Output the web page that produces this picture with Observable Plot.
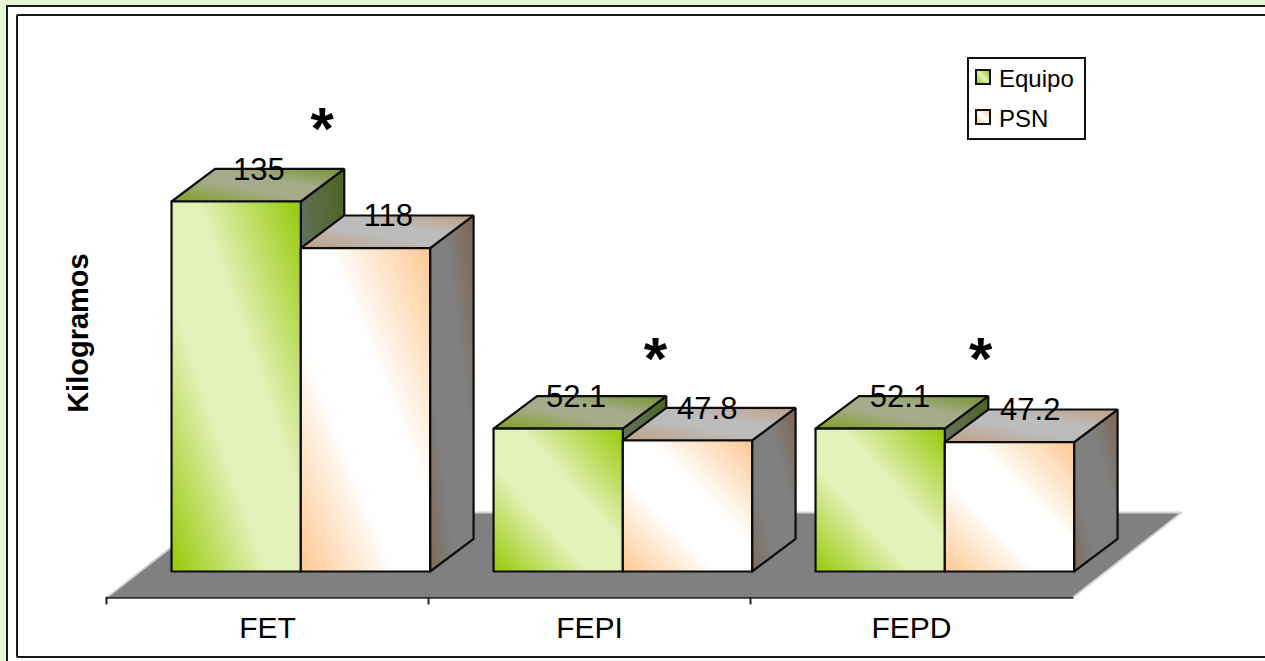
<!DOCTYPE html>
<html>
<head>
<meta charset="utf-8">
<script src="https://cdn.jsdelivr.net/npm/d3@7"></script>
<script src="https://cdn.jsdelivr.net/npm/@observablehq/plot@0.6"></script>
<style>
  html, body { margin: 0; padding: 0; width: 1265px; height: 661px; overflow: hidden; background: #e8f4d8; font-family: "Liberation Sans", Arial, sans-serif; }
  #outer, #inner { position: absolute; box-sizing: border-box; background: #fff; }
  #outer { left: 6px; top: 5px; width: 1300px; height: 700px; border: 2px solid #1a1a1a; }
  #inner { left: 16px; top: 14px; width: 1300px; height: 644px; border: 2px solid #1a1a1a; border-radius: 2px; }
  #chart { position: absolute; left: 0; top: 0; }
  #legend { position: absolute; left: 967px; top: 57px; width: 119px; height: 83px; box-sizing: border-box; border: 2px solid #111; background: #fff; }
  .sw { position: absolute; left: 6px; width: 16px; height: 16px; box-sizing: border-box; border: 2px solid #111; }
  .lt { position: absolute; left: 30px; font-size: 24px; line-height: 26px; color: #000; }
</style>
</head>
<body>
<div id="outer"></div>
<div id="inner"></div>
<div id="chart"></div>
<div id="legend">
  <div class="sw" style="top:10px;background:linear-gradient(45deg,#99cc11,#e3f1b8 50%,#99cc11)"></div>
  <div class="lt" style="top:7px">Equipo</div>
  <div class="sw" style="top:50px;background:linear-gradient(45deg,#ffcc99,#fff 50%,#ffcc99)"></div>
  <div class="lt" style="top:47px">PSN</div>
</div>
<script>
const categories = ["FET", "FEPI", "FEPD"];
const equipo = [135, 52.1, 52.1];
const psn = [118, 47.8, 47.2];
const seriesNames = ["Equipo", "PSN"];
const yAxisTitle = "Kilogramos";
const starMark = "*";
const starX = [0.67, 1.705, 2.715];
const starY = [161.2, 77.4, 77.4];

// Bars and floor in data units: x is the group position, y is kilograms.
const barOffset = 0.202, barWidth = 0.4015;
const depthX = 0.135, depthY = 11.9;
const floorY = -9.6, floorDepthX = 0.339, floorDepthY = 31.1;

const faces = {front: [], top: [], side: []};
function addBar(cat, i, slot, value, series) {
  const x0 = i + barOffset + slot * barWidth, x1 = x0 + barWidth;
  const key = cat + series;
  const push = (arr, pts) => pts.forEach(p => arr.push({key, series, x: p[0], y: p[1]}));
  push(faces.front, [[x0,0],[x1,0],[x1,value],[x0,value],[x0,0]]);
  push(faces.top, [[x0,value],[x1,value],[x1+depthX,value+depthY],[x0+depthX,value+depthY],[x0,value]]);
  push(faces.side, [[x1,0],[x1+depthX,depthY],[x1+depthX,value+depthY],[x1,value],[x1,0]]);
}
categories.forEach((c, i) => { addBar(c, i, 0, equipo[i], "Equipo"); addBar(c, i, 1, psn[i], "PSN"); });

const by = (arr, s) => arr.filter(d => d.series === s);
const polygon = (arr, fill, extra = {}) => Plot.line(arr, {x: "x", y: "y", z: "key", fill, stroke: "#0d0d0d", strokeWidth: 2.2, strokeLinejoin: "miter", curve: "linear", ...extra});

const floorPts = [[0,floorY],[3,floorY],[3+floorDepthX,floorY+floorDepthY],[floorDepthX,floorY+floorDepthY],[0,floorY]]
  .map(p => ({x: p[0], y: p[1]}));
const floorFront = floorPts.slice(0, 2);
const tickPositions = [0, 1, 2];

const nudgeEquipo = [0.003, -0.012, -0.006];
const nudgePsn = [0.003, -0.006, -0.003];
const labels = categories.flatMap((c, i) => [
  {text: String(equipo[i]), x: i + barOffset + barWidth * 0.5 + depthX / 2 + nudgeEquipo[i], y: equipo[i] + depthY - 0.3},
  {text: String(psn[i]), x: i + barOffset + barWidth * 1.5 + depthX / 2 + nudgePsn[i], y: psn[i] + depthY - 0.3}
]);
const stars = categories.map((c, i) => ({x: starX[i], y: starY[i]}));

function defs() {
  const d = d3.create("svg:defs");
  const grad = (id, stops, attrs) => {
    const g = d.append("linearGradient").attr("id", id);
    Object.entries(attrs).forEach(([k, v]) => g.attr(k, v));
    stops.forEach(([o, c]) => g.append("stop").attr("offset", o).attr("stop-color", c));
  };
  const diag = {x1: 0, y1: 1, x2: 1, y2: 0};
  grad("gFront", [[0.03,"#9ccc14"],[0.37,"#e3f1b8"],[0.6,"#e3f1b8"],[0.97,"#9ccc14"]], diag);
  grad("pFront", [[0.03,"#ffcc99"],[0.37,"#ffffff"],[0.6,"#ffffff"],[0.97,"#ffcc99"]], diag);
  grad("gTop", [[0,"#7f9f1c"],[0.42,"#a6ac8b"],[0.62,"#a6ac8b"],[1,"#74922a"]], diag);
  grad("pTop", [[0,"#c09f82"],[0.42,"#bcbcbc"],[0.62,"#bcbcbc"],[1,"#c09f82"]], diag);
  grad("gSide", [[0,"#6c6f60"],[0.4,"#66705a"],[1,"#4b6420"]], diag);
  grad("pSide", [[0,"#7f6a58"],[0.3,"#808080"],[0.65,"#808080"],[1,"#7f6550"]], diag);
  return d.node();
}

const chart = Plot.plot({
  width: 1265,
  height: 661,
  marginTop: 0, marginRight: 0, marginLeft: 0, marginBottom: 62,
  style: {background: "transparent", fontFamily: "'Liberation Sans', Arial, sans-serif"},
  x: {type: "linear", domain: [0, 3], range: [106, 1072]},
  y: {type: "linear", domain: [0, 135], range: [571, 201], axis: null},
  marks: [
    defs,
    Plot.line(floorPts, {x: "x", y: "y", fill: "#808080", stroke: "#d2d2d2", strokeWidth: 2}),
    Plot.line(floorFront, {x: "x", y: "y", stroke: "#333", strokeWidth: 2}),
    Plot.ruleX(tickPositions, {y1: floorY, y2: floorY - 2.6, stroke: "#222", strokeWidth: 2}),
    Plot.axisX({ticks: [0.5, 1.5, 2.5], tickSize: 0, tickPadding: 17, label: null, fontSize: 30, fill: "#000",
      tickFormat: v => categories[Math.floor(v)]}),
    polygon(by(faces.side, "Equipo"), "url(#gSide)"),
    polygon(by(faces.top, "Equipo"), "url(#gTop)"),
    polygon(by(faces.front, "Equipo"), "url(#gFront)"),
    polygon(by(faces.side, "PSN"), "url(#pSide)"),
    polygon(by(faces.top, "PSN"), "url(#pTop)"),
    polygon(by(faces.front, "PSN"), "url(#pFront)"),
    Plot.text(labels, {x: "x", y: "y", text: "text", fontSize: 31, fill: "#000", lineAnchor: "middle"}),
    Plot.text(stars, {x: "x", y: "y", text: () => starMark, fontSize: 60, fontWeight: "bold", fill: "#000", lineAnchor: "middle"}),
    Plot.text([yAxisTitle], {x: () => -0.085, y: () => 87, text: d => d, rotate: -90, fontSize: 29, fontWeight: "bold", fill: "#000", lineAnchor: "middle"})
  ]
});
document.getElementById("chart").appendChild(chart);
</script>
</body>
</html>
